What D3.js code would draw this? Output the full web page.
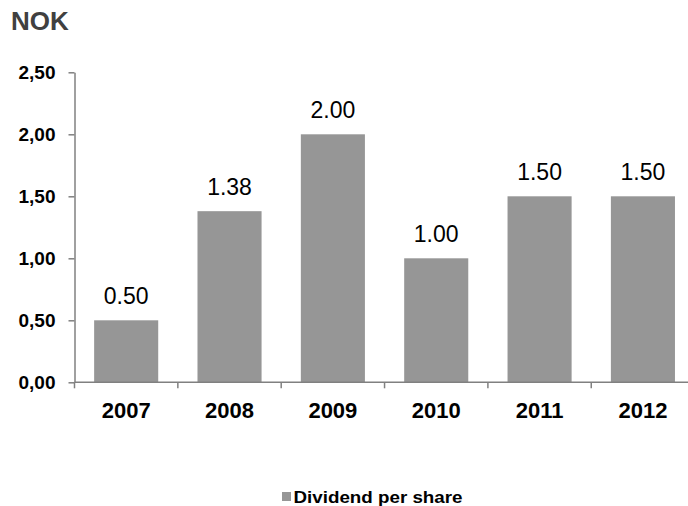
<!DOCTYPE html>
<html>
<head>
<meta charset="utf-8">
<script src="https://cdn.jsdelivr.net/npm/d3@7"></script>
<style>
  html, body { margin: 0; padding: 0; background: #fff; }
  svg { display: block; font-family: Arial, "Liberation Sans", sans-serif; }
</style>
</head>
<body>
<svg id="chart" width="688" height="506"></svg>
<script>
// Dividend per share, NOK
const years = ["2007", "2008", "2009", "2010", "2011", "2012"];
const dividend = [0.50, 1.38, 2.00, 1.00, 1.50, 1.50];
const yTicks = [0, 0.5, 1.0, 1.5, 2.0, 2.5];
const seriesName = "Dividend per share";
const unitLabel = "NOK";

const svg = d3.select("#chart");
const plotLeft = 74.5, plotTop = 72.3, plotBottom = 382.3, step = 103.35;

const x = d3.scaleBand()
  .domain(years)
  .range([plotLeft, plotLeft + step * years.length])
  .paddingInner(0.38)
  .paddingOuter(0.19);

const y = d3.scaleLinear().domain([0, 2.5]).range([plotBottom, plotTop]);

const barColor = "#969696";
const axisColor = "#808080";

const rows = years.map((yr, i) => ({ yr, v: dividend[i] }));

// bars
svg.append("g").selectAll("rect")
  .data(rows)
  .join("rect")
  .attr("x", d => x(d.yr))
  .attr("width", x.bandwidth())
  .attr("y", d => y(d.v))
  .attr("height", d => y(0) - y(d.v))
  .attr("fill", barColor);

// value labels
svg.append("g").selectAll("text")
  .data(rows)
  .join("text")
  .attr("x", d => x(d.yr) + x.bandwidth() / 2)
  .attr("y", d => y(d.v) - 16)
  .attr("text-anchor", "middle")
  .attr("font-size", 23)
  .attr("fill", "#000")
  .text(d => d.v.toFixed(2));

// y axis
const yAxis = svg.append("g")
  .attr("transform", `translate(${plotLeft},0)`)
  .call(d3.axisLeft(y).tickValues(yTicks).tickSize(6).tickSizeOuter(0).tickPadding(13)
    .tickFormat(d => d3.format(".2f")(d).replace(".", ",")));
yAxis.select(".domain").attr("stroke", axisColor).attr("stroke-width", 1.5);
yAxis.selectAll(".tick line").attr("stroke", axisColor).attr("stroke-width", 1.5);
yAxis.selectAll(".tick text")
  .attr("font-size", 19).attr("font-weight", "bold").attr("fill", "#000")
  .attr("font-family", "Arial, 'Liberation Sans', sans-serif");

// x axis: ticks at category boundaries
const xAxis = svg.append("g").attr("transform", `translate(0,${plotBottom})`);
xAxis.append("line")
  .attr("x1", plotLeft).attr("x2", x.range()[1])
  .attr("stroke", axisColor).attr("stroke-width", 1.5);
xAxis.selectAll("line.bound")
  .data(d3.range(years.length + 1))
  .join("line")
  .attr("class", "bound")
  .attr("x1", i => plotLeft + i * x.step())
  .attr("x2", i => plotLeft + i * x.step())
  .attr("y1", 0).attr("y2", 6)
  .attr("stroke", axisColor).attr("stroke-width", 1.5);
xAxis.selectAll("text.year")
  .data(years)
  .join("text")
  .attr("class", "year")
  .attr("x", d => x(d) + x.bandwidth() / 2)
  .attr("y", 36)
  .attr("text-anchor", "middle")
  .attr("font-size", 22).attr("font-weight", "bold").attr("fill", "#000")
  .text(d => d);

// unit label
svg.append("text")
  .attr("x", 11).attr("y", 29.5)
  .attr("font-size", 26).attr("font-weight", "bold").attr("fill", "#404040")
  .text(unitLabel);

// legend
const lg = svg.append("g");
lg.append("rect")
  .attr("x", 282).attr("y", 492).attr("width", 9).attr("height", 9)
  .attr("fill", barColor);
lg.append("text")
  .attr("x", 293.5).attr("y", 502.7)
  .attr("font-size", 17).attr("font-weight", "bold").attr("fill", "#000")
  .attr("textLength", 169).attr("lengthAdjust", "spacingAndGlyphs")
  .text(seriesName);
</script>
</body>
</html>
